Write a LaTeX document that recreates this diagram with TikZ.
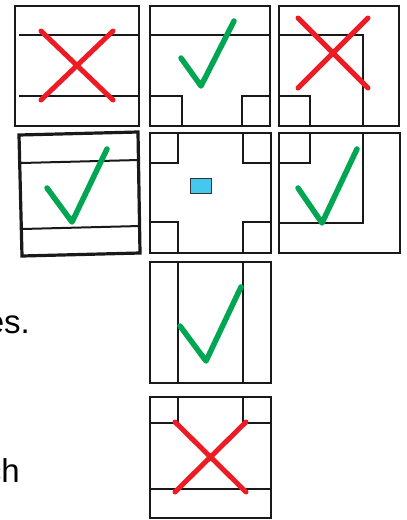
\documentclass[tikz,border=0pt]{standalone}
\usepackage{fontspec}
\setmainfont{Liberation Sans}
\definecolor{xred}{HTML}{ED1C24}
\definecolor{okgreen}{HTML}{00A651}
\definecolor{skyblue}{HTML}{45C8F0}
\begin{document}
\begin{tikzpicture}[x=1pt,y=-1pt,
  frame/.style={draw=black!90,line width=2.4pt,line join=miter},
  inner/.style={draw=black!90,line width=2pt},
  cross/.style={draw=xred,line width=5pt,line cap=round},
  tick/.style={draw=okgreen,line width=5.5pt,line cap=round,line join=round},
  txt/.style={font=\fontsize{33}{33}\selectfont,inner sep=0pt,anchor=base east}]
\useasboundingbox (0,0) rectangle (407,520);
\clip (0,0) rectangle (407,520);
% Box 1
\draw[inner] (19,35) -- (139,35) (19,96) -- (139,96);
\draw[frame] (15,6) rectangle (139,126);
\draw[cross] (41,31) -- (113,100) (41,100) -- (113,31);
% Box 2
\draw[inner] (150,35) -- (270,35);
\draw[inner] (150,96) -| (182,126) (270,96) -| (242,126);
\draw[frame] (150,6) rectangle (270,126);
\draw[tick] (181,58) -- (201,86) -- (234,21);
% Box 3
\draw[inner] (279,35) -| (363,126);
\draw[inner] (279,96) -| (310,126);
\draw[frame] (279,6) rectangle (399,126);
\draw[cross] (298,18) -- (368,88) (298,88) -- (368,18);
% Box 4 (tilted)
\draw[inner] (21,163) -- (139,160) (22,229) -- (140,226);
\draw[frame,line width=3.2pt] (19,135) -- (138,132) -- (140,253) -- (22,256) -- cycle;
\draw[tick] (47,188) -- (72,222) -- (107,149);
% Box 5
\draw[inner] (150,163) -| (178,133) (271,163) -| (243,133);
\draw[inner] (150,222) -| (178,253) (271,222) -| (243,253);
\draw[frame] (150,133) rectangle (271,253);
\draw[fill=skyblue,draw=black!80,line width=0.8pt] (190,178) rectangle (211,193);
% Box 6
\draw[inner] (279,163) -| (310,133);
\draw[inner] (363,133) |- (279,223);
\draw[frame] (279,133) rectangle (400,253);
\draw[tick] (298,188) -- (322,223) -- (357,149);
% Box 7
\draw[inner] (178,262) -- (178,383) (243,262) -- (243,383);
\draw[frame] (150,262) rectangle (271,383);
\draw[tick] (180,326) -- (206,361) -- (241,287);
% Box 8
\draw[inner] (150,423) -| (178,397) (271,423) -| (243,397);
\draw[inner] (150,489) -- (271,489);
\draw[frame] (150,397) rectangle (271,518);
\draw[cross] (175,422) -- (246,492) (175,492) -- (246,422);
% Texts
\node[txt] (t1) at (30,333) {es.};
\node[txt] (t2) at (20,482) {ch};
\end{tikzpicture}
\end{document}
